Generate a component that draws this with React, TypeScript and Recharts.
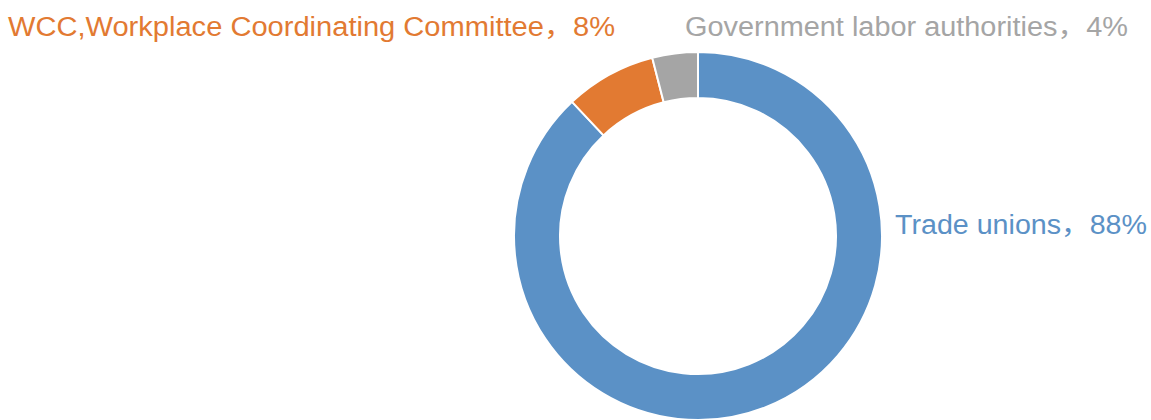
import { Cell, Pie, PieChart } from "recharts";

const categories = ["Trade unions", "WCC,Workplace Coordinating Committee", "Government labor authorities"];
const shares = [88, 8, 4];
const sliceColors = ["#5B91C6", "#E27A32", "#A5A5A5"];

const data = categories.map((name, i) => ({ name, value: shares[i], color: sliceColors[i] }));

// where each label sits in the picture (left x, baseline y, text width)
const labelSpots = [
  { x: 895, y: 234, w: 252 },
  { x: 8, y: 36, w: 607 },
  { x: 685, y: 36, w: 443 }
];

function renderLabel(props: any) {
  const i = props.index as number;
  const spot = labelSpots[i];
  const entry = data[i];
  return (
    <text
      key={entry.name}
      x={spot.x}
      y={spot.y}
      fill={entry.color}
      fontSize={27}
      fontFamily="'Liberation Sans', 'Noto Sans CJK SC', sans-serif"
      textAnchor="start"
      textLength={spot.w}
      lengthAdjust="spacingAndGlyphs"
    >
      {`${entry.name}，${entry.value}%`}
    </text>
  );
}

export default function App() {
  return (
    <div style={{ width: 1151, height: 420, background: "#fff" }}>
      <style>{"body{margin:0}"}</style>
      <PieChart width={1151} height={420} margin={{ top: 0, right: 0, bottom: 0, left: 0 }}>
        <Pie
          data={data}
          dataKey="value"
          nameKey="name"
          cx={698}
          cy={236}
          innerRadius={138}
          outerRadius={184}
          startAngle={90}
          endAngle={-270}
          stroke="#fff"
          strokeWidth={2}
          label={renderLabel}
          labelLine={false}
          isAnimationActive={false}
        >
          {data.map((entry) => (
            <Cell key={entry.name} fill={entry.color} />
          ))}
        </Pie>
      </PieChart>
    </div>
  );
}
